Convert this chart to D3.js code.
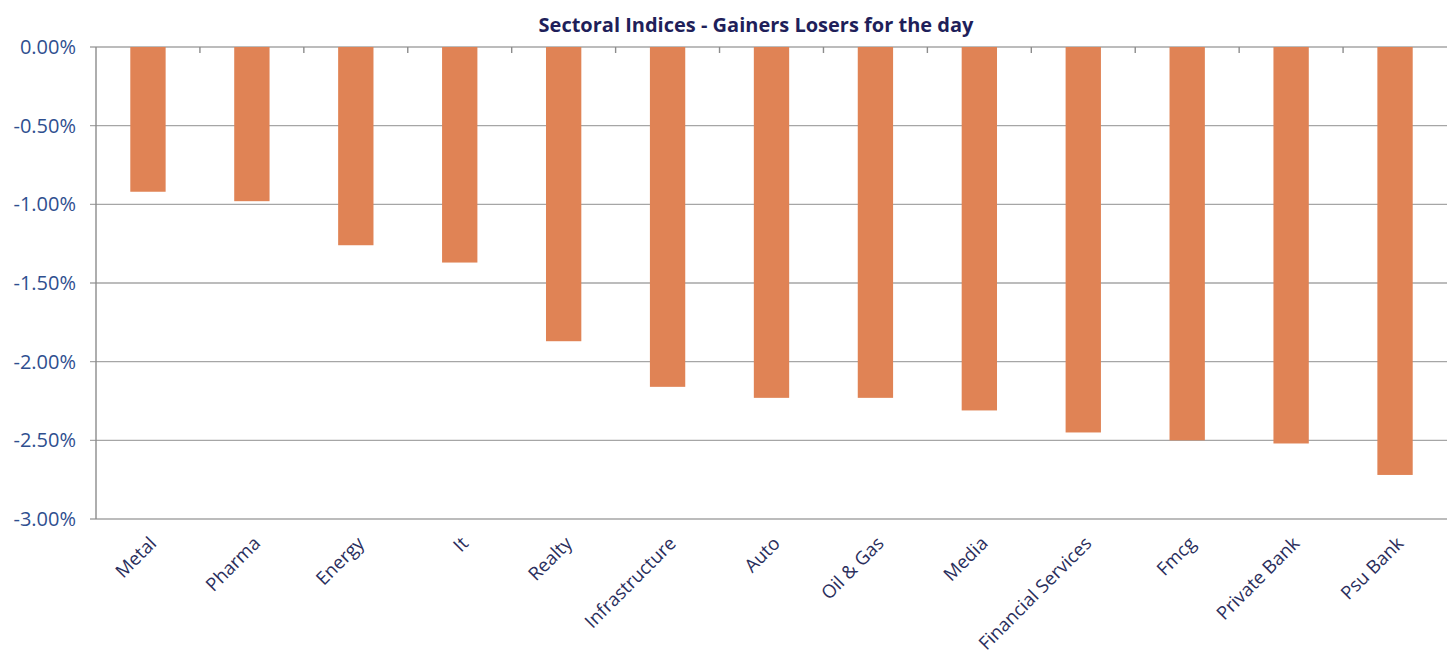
<!DOCTYPE html>
<html>
<head>
<meta charset="utf-8">
<script src="https://cdn.jsdelivr.net/npm/d3@7"></script>
<style>
	body { margin: 0; background: #fff; }
	svg { font-family: "Open Sans", "Noto Sans", sans-serif; }
</style>
</head>
<body>
<svg width="1451" height="661"></svg>
<script>
/* DATA */
var categories = ["Metal", "Pharma", "Energy", "It", "Realty", "Infrastructure", "Auto",
	"Oil & Gas", "Media", "Financial Services", "Fmcg", "Private Bank", "Psu Bank"];
var changes = [-0.92, -0.98, -1.26, -1.37, -1.87, -2.16, -2.23, -2.23, -2.31, -2.45, -2.50, -2.52, -2.72];
var yTicks = [0, -0.5, -1, -1.5, -2, -2.5, -3];
var title = "Sectoral Indices - Gainers Losers for the day";

/* SVG */
var svg = d3.select("svg");
var margin = { top: 47, left: 96, right: 4, bottom: 142 };
var width = 1451 - margin.left - margin.right;
var height = 661 - margin.top - margin.bottom;
var g = svg.append("g").attr("transform", `translate(${margin.left},${margin.top})`);

/* SCALES */
var x = d3.scaleBand().domain(categories).range([0, width]).paddingInner(0.66).paddingOuter(0.33);
var y = d3.scaleLinear().domain([-3, 0]).range([height, 0]);

/* GRID */
g.append("g")
	.selectAll("line")
	.data(yTicks)
	.enter()
	.append("line")
	.attr("x1", -6)
	.attr("x2", width)
	.attr("y1", function (d) { return y(d); })
	.attr("y2", function (d) { return y(d); })
	.attr("stroke", "#a6a6a6")
	.attr("stroke-width", 1.4);

/* BARS */
g.append("g")
	.selectAll("rect")
	.data(changes)
	.enter()
	.append("rect")
	.attr("x", function (d, i) { return x(categories[i]); })
	.attr("y", y(0))
	.attr("width", x.bandwidth())
	.attr("height", function (d) { return y(d) - y(0); })
	.attr("fill", "#e08355");

/* Y AXIS */
g.append("line")
	.attr("x1", 0).attr("x2", 0)
	.attr("y1", 0).attr("y2", height)
	.attr("stroke", "#8c8c8c")
	.attr("stroke-width", 1.4);

g.append("g")
	.selectAll("text")
	.data(yTicks)
	.enter()
	.append("text")
	.attr("x", -20)
	.attr("y", function (d) { return y(d); })
	.attr("dy", "0.35em")
	.attr("text-anchor", "end")
	.attr("fill", "#2f4f8f")
	.style("font-size", "20px")
	.text(function (d) { return d.toFixed(2) + "%"; });

/* X AXIS (at zero line, ticks between categories) */
var step = x.step();
g.append("g")
	.selectAll("line")
	.data(d3.range(1, categories.length))
	.enter()
	.append("line")
	.attr("x1", function (i) { return i * step; })
	.attr("x2", function (i) { return i * step; })
	.attr("y1", 0)
	.attr("y2", 6)
	.attr("stroke", "#8c8c8c")
	.attr("stroke-width", 1.4);

g.append("g")
	.selectAll("text")
	.data(categories)
	.enter()
	.append("text")
	.attr("transform", function (d) {
		var cx = x(d) + x.bandwidth() / 2 + 5;
		return `translate(${cx},${height + 21}) rotate(-45)`;
	})
	.attr("text-anchor", "end")
	.attr("dy", "0.35em")
	.attr("fill", "#2a2e5c")
	.style("font-size", "18.5px")
	.text(function (d) { return d; });

/* TITLE */
svg.append("text")
	.attr("x", 756)
	.attr("y", 32)
	.attr("text-anchor", "middle")
	.attr("fill", "#1f1f5a")
	.style("font-size", "20px")
	.style("font-weight", "bold")
	.text(title);
</script>
</body>
</html>
